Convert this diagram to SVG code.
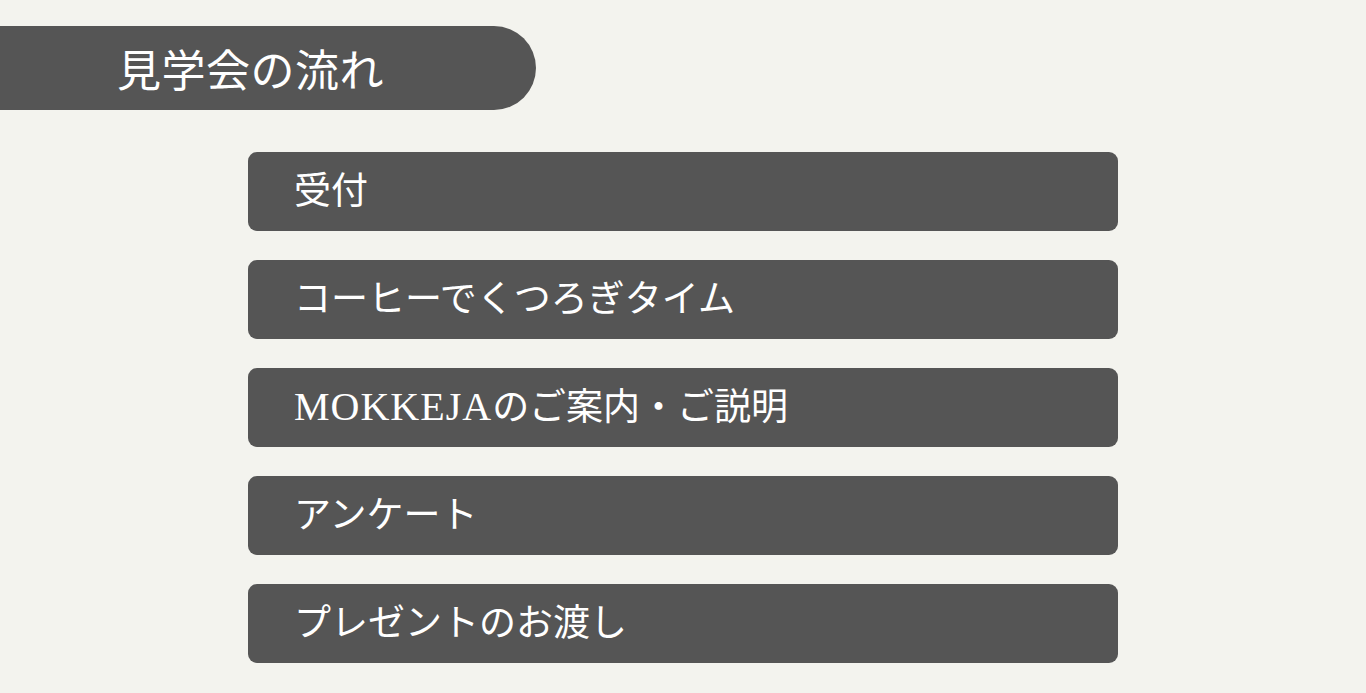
<svg xmlns="http://www.w3.org/2000/svg" width="1366" height="693" viewBox="0 0 1366 693">
<style>
.box{fill:#555555}
.t{fill:#ffffff;font-family:"Liberation Serif","Noto Sans CJK JP",serif;font-size:37px}
.lat{font-size:40px;letter-spacing:1px}
.h{fill:#ffffff;font-family:"Liberation Serif","Noto Sans CJK JP",serif;font-size:44px;letter-spacing:0.5px}
</style>
<rect width="1366" height="693" fill="#f3f3ee"/>
<g id="header">
<path class="box" d="M0 26 H494 A42 42 0 0 1 494 110 H0 Z"/>
<text class="h" x="117" y="87">見学会の流れ</text>
</g>
<g id="step1"><rect class="box" x="248" y="152" width="870" height="79" rx="9"/><text class="t" x="294" y="204">受付</text></g>
<g id="step2"><rect class="box" x="248" y="260" width="870" height="79" rx="9"/><text class="t" x="294" y="312">コーヒーでくつろぎタイム</text></g>
<g id="step3"><rect class="box" x="248" y="368" width="870" height="79" rx="9"/><text class="t" x="294" y="420"><tspan class="lat">MOKKEJA</tspan>のご案内・ご説明</text></g>
<g id="step4"><rect class="box" x="248" y="476" width="870" height="79" rx="9"/><text class="t" x="294" y="528">アンケート</text></g>
<g id="step5"><rect class="box" x="248" y="584" width="870" height="79" rx="9"/><text class="t" x="294" y="636">プレゼントのお渡し</text></g>
<g id="connectors"></g>
</svg>
